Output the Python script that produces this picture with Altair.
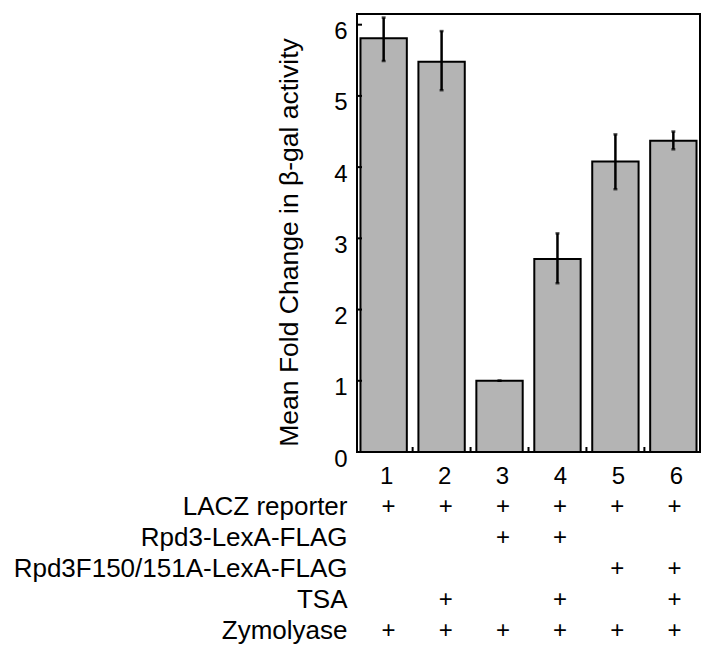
import altair as alt
import pandas as pd

FONT = "Liberation Sans"

lanes = ["1", "2", "3", "4", "5", "6"]
means = [5.81, 5.48, 1.0, 2.71, 4.08, 4.37]
err_low = [5.49, 5.08, 1.0, 2.37, 3.69, 4.25]
err_high = [6.10, 5.91, 1.0, 3.07, 4.46, 4.50]
y_ticks = [0, 1, 2, 3, 4, 5, 6]
boundary_lanes = ["1", "2", "3", "4", "5"]

row_labels = ["LACZ reporter", "Rpd3-LexA-FLAG", "Rpd3F150/151A-LexA-FLAG", "TSA", "Zymolyase"]
lacz = [1, 1, 1, 1, 1, 1]
rpd3 = [0, 0, 1, 1, 0, 0]
rpd3mut = [0, 0, 0, 0, 1, 1]
tsa = [0, 1, 0, 1, 0, 1]
zymo = [1, 1, 1, 1, 1, 1]

bars_df = pd.DataFrame({"lane": lanes, "mean": means, "lo": err_low, "hi": err_high})
yt_df = pd.DataFrame({"v": y_ticks})
bt_df = pd.DataFrame({"lane": boundary_lanes})

rows = []
for name, flags in zip(row_labels, [lacz, rpd3, rpd3mut, tsa, zymo]):
    for lane, f in zip(lanes, flags):
        if f:
            rows.append({"row": name, "lane": lane, "sign": "+"})
table_df = pd.DataFrame(rows)

W, H = 343, 438

xscale = alt.Scale(domain=lanes, paddingInner=0.2, paddingOuter=0.06)
yscale = alt.Scale(domain=[0, 6.15], nice=False, zero=True)

x_enc = alt.X("lane:N", scale=xscale, sort=lanes,
              axis=alt.Axis(title=None, labelAngle=0, labelFontSize=24, labelFont=FONT,
                            labelColor="black", domain=False, ticks=False,
                            labelPadding=12, labelOffset=3))
y_axis = alt.Axis(title="Mean Fold Change in β-gal activity", titleFontSize=26.5,
                  titleFont=FONT, titleFontWeight="normal", titleColor="black",
                  titlePadding=30, titleY=228, values=y_ticks, format="d",
                  labelFontSize=24, labelFont=FONT,
                  labelColor="black", domain=False, ticks=False, grid=False,
                  labelPadding=10, labelOffset=7)

bars = alt.Chart(bars_df).mark_bar(color="#b4b4b4", stroke="black", strokeWidth=2).encode(
    x=x_enc,
    y=alt.Y("mean:Q", scale=yscale, axis=y_axis),
)
err = alt.Chart(bars_df).mark_rule(color="black", strokeWidth=2.5).encode(
    x=alt.X("lane:N", scale=xscale, sort=lanes),
    y=alt.Y("lo:Q", scale=yscale),
    y2="hi:Q",
)
cap_lo = alt.Chart(bars_df).mark_tick(color="black", size=4, thickness=2.5).encode(
    x=alt.X("lane:N", scale=xscale, sort=lanes),
    y=alt.Y("lo:Q", scale=yscale),
)
cap_hi = alt.Chart(bars_df).mark_tick(color="black", size=4, thickness=2.5).encode(
    x=alt.X("lane:N", scale=xscale, sort=lanes),
    y=alt.Y("hi:Q", scale=yscale),
)
ytick = alt.Chart(yt_df).mark_rule(color="black", strokeWidth=2).encode(
    y=alt.Y("v:Q", scale=yscale),
    x=alt.value(0),
    x2=alt.value(5),
)
btick = alt.Chart(bt_df).mark_rule(color="black", strokeWidth=2, xOffset=5.8).encode(
    x=alt.X("lane:N", scale=xscale, sort=lanes, bandPosition=1),
    y=alt.value(H),
    y2=alt.value(H - 5),
)

top = alt.layer(bars, err, cap_lo, cap_hi, ytick, btick).properties(
    width=W, height=H,
    view=alt.ViewBackground(stroke="black", strokeWidth=2),
)

table = alt.Chart(table_df).mark_text(fontSize=24, font=FONT, color="black", dx=3).encode(
    x=alt.X("lane:N", scale=alt.Scale(domain=lanes, paddingInner=0.2, paddingOuter=0.06),
            sort=lanes, axis=None),
    y=alt.Y("row:N", sort=row_labels, scale=alt.Scale(domain=row_labels),
            axis=alt.Axis(title=None, domain=False, ticks=False, labelFontSize=26,
                          labelFont=FONT, labelColor="black", labelPadding=10,
                          labelLimit=0)),
    text="sign:N",
).properties(width=W, height=155, view=alt.ViewBackground(stroke=None))

chart = alt.vconcat(top, table, spacing=2).configure_view(stroke=None)

chart.save("out.html", embed_options={"renderer": "svg", "actions": False})
